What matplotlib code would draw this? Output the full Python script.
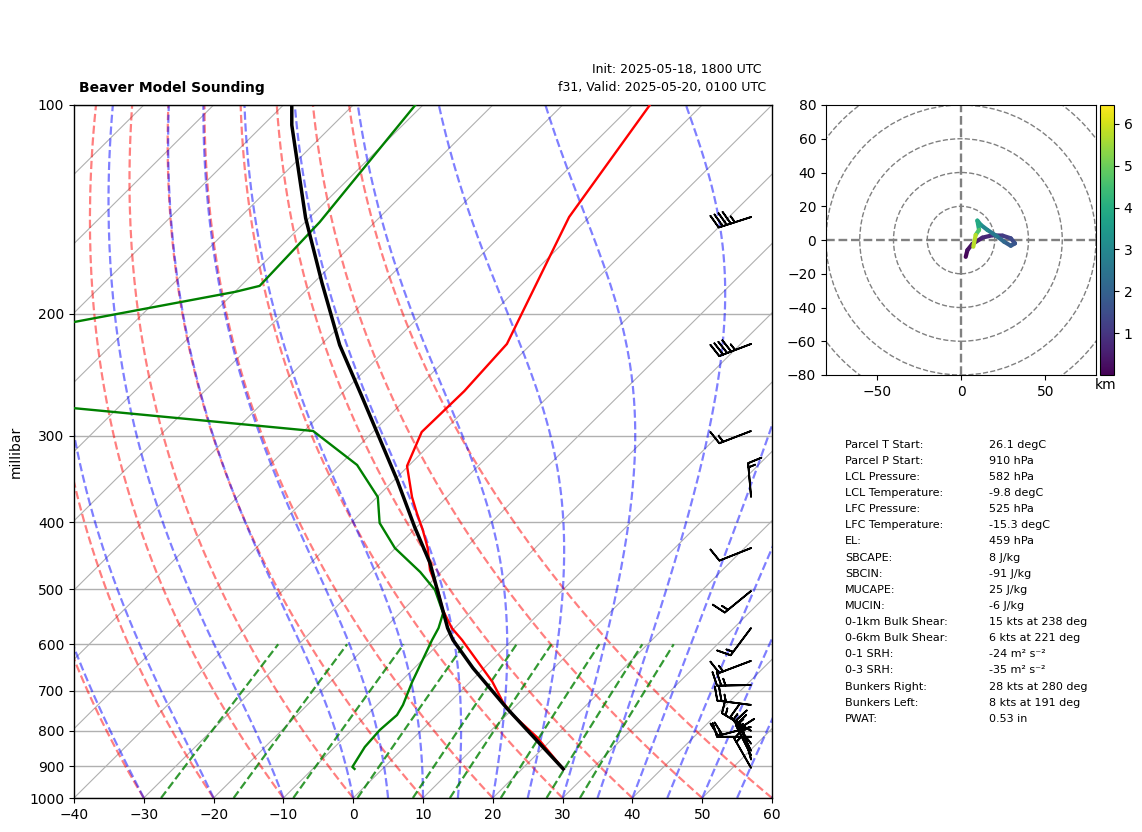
import numpy as np
import matplotlib
matplotlib.use("Agg")
import matplotlib.pyplot as plt
from matplotlib.collections import LineCollection
from matplotlib.ticker import NullLocator, FixedLocator, FixedFormatter

# ---- sounding profiles
temp_p = [908, 816.6, 759, 727, 680, 591.6, 568.5, 535.4, 501, 468.8, 435.8, 410.5, 388, 367.9, 331.8, 296.4, 258.7, 221.2, 145.1, 100]
temp_t = [25.9, 17.5, 10.9, 7.6, 3.2, -7.2, -10.4, -14.3, -17.9, -21.9, -25.4, -28.7, -32.0, -35.0, -40.2, -43.0, -42.8, -43.5, -52.9, -57.5]

dewp_p = [908, 902, 844, 798, 759, 734, 680, 591.6, 568.5, 541, 501, 472, 435.8, 401, 367.9, 330.7, 295.4, 248.6, 186, 182.4, 147.6, 100]
dewp_t = [-4.0, -4.6, -5.7, -6.0, -5.7, -6.3, -8.3, -11.5, -12.3, -13.8, -18.3, -23.0, -30.1, -35.9, -39.9, -47.5, -58.7, -144.1, -89.9, -87.3, -87.9, -91.1]

parcel_p = [908, 741.6, 649.3, 591.6, 568.5, 535.4, 458.1, 406.4, 347.6, 304.3, 263.8, 222, 180.6, 145.6, 137.1, 106.9, 100]
parcel_t = [25.9, 9.0, -1.6, -8.5, -11.0, -14.3, -22.9, -30.3, -39.6, -47.8, -56.6, -67.3, -78.8, -90.5, -93.5, -105.9, -108.8]

# ---- winds (knots)
barb_p = [905, 880, 868, 855, 835, 816, 800, 790, 734, 687, 634, 568.5, 502.6, 435.8, 367.9, 295.4, 221.2, 145.1]
barb_u = [7.4, 4, 6.7, 6.5, 9, 15, 12.8, 19, 24.8, 25, 14, 9, 11.6, 9.3, 1.3, 14, 42, 42.8]
barb_v = [-13, -14.5, -13.4, -13.5, -12, 0, -7.8, 5, -3.2, 0.5, 5.3, 12, 9.5, 3.7, -15, 5.4, 16, 13.8]

# ---- hodograph
hodo_u = [2.8, 3.8, 6.7, 12.7, 18.6, 24.6, 29.5, 32, 29.5, 25.5, 21.6, 15.6, 11.7, 9.7, 10.7, 8.7, 7.3]
hodo_v = [-10, -6, -2.4, 1.4, 2.8, 2.6, 1, -2, -3.4, -1, 2, 6, 9, 11.5, 6, 3, -4]
hodo_h = [0.05, 0.2, 0.4, 0.6, 0.8, 1.0, 1.3, 1.6, 1.8, 2.0, 2.4, 2.8, 3.2, 3.6, 4.2, 5.2, 6.3]
hodo_rings = [20, 40, 60, 80, 100]

# ---- thermodynamic guide lines
dry_t0 = list(range(-30, 61, 10))
moist_t0 = [-30, -20, -10, 0, 5, 10, 15, 20, 25, 30, 35, 40, 45, 50, 55, 60]
mix_w = [0.0004, 0.001, 0.002, 0.004, 0.007, 0.01, 0.016, 0.024, 0.032]

# ---- table
table_labels = ["Parcel T Start:", "Parcel P Start:", "LCL Pressure:", "LCL Temperature:", "LFC Pressure:",
                "LFC Temperature:", "EL:", "SBCAPE:", "SBCIN:", "MUCAPE:", "MUCIN:", "0-1km Bulk Shear:",
                "0-6km Bulk Shear:", "0-1 SRH:", "0-3 SRH:", "Bunkers Right:", "Bunkers Left:", "PWAT:"]
table_values = ["26.1 degC", "910 hPa", "582 hPa", "-9.8 degC", "525 hPa", "-15.3 degC", "459 hPa", "8 J/kg",
                "-91 J/kg", "25 J/kg", "-6 J/kg", "15 kts at 238 deg", "6 kts at 221 deg",
                "-24 m\u00b2 s\u207b\u00b2", "-35 m\u00b2 s\u207b\u00b2", "28 kts at 280 deg", "8 kts at 191 deg", "0.53 in"]
table_y = [445, 461, 477, 493, 509, 525, 541, 558, 574, 590, 606, 622, 638, 654, 670, 687, 703, 719]

W, H = 1142, 832
fig = plt.figure(figsize=(W / 100, H / 100), dpi=100)


def box(x0, y0, x1, y1):
    return [x0 / W, 1 - y1 / H, (x1 - x0) / W, (y1 - y0) / H]


ax = fig.add_axes(box(74, 105, 772, 798))
SKEW = 100.0


def sk(t, p):
    return np.asarray(t, float) + SKEW * np.log10(1000.0 / np.asarray(p, float))


ax.set_yscale("log")
ax.set_ylim(1000, 100)
ax.set_xlim(-40, 60)

pp = np.linspace(1000, 100, 181)
for t in np.arange(-150, 61, 10):
    ax.plot(sk(np.full_like(pp, t), pp), pp, color="#b0b0b0", lw=0.8, zorder=1)
pticks = np.arange(100, 1001, 100)
for p in pticks:
    ax.axhline(p, color="#b0b0b0", lw=1.0, zorder=1)

for t0 in dry_t0:
    tk = (t0 + 273.15) * (pp / 1000.0) ** 0.2857 - 273.15
    ax.plot(sk(tk, pp), pp, color="r", alpha=0.5, ls="--", lw=1.6, zorder=2)


def lapse(p, T):
    es = 6.112 * np.exp(17.67 * (T - 273.15) / (T - 29.65))
    rs = 0.622 * es / (p - es)
    Lv, Rd, Cp = 2.501e6, 287.05, 1005.0
    return (Rd * T + Lv * rs) / (Cp + Lv ** 2 * rs * 0.622 / (Rd * T ** 2)) / p


for t0 in moist_t0:
    T = t0 + 273.15
    tvals = [T]
    for a, b in zip(pp[:-1], pp[1:]):
        h = b - a
        k1 = lapse(a, T)
        k2 = lapse(a + h / 2, T + h / 2 * k1)
        k3 = lapse(a + h / 2, T + h / 2 * k2)
        k4 = lapse(b, T + h * k3)
        T = T + h / 6 * (k1 + 2 * k2 + 2 * k3 + k4)
        tvals.append(T)
    ax.plot(sk(np.array(tvals) - 273.15, pp), pp, color="b", alpha=0.5, ls="--", lw=1.6, zorder=2)

pm = np.linspace(1000, 600, 40)
for w in mix_w:
    e = pm * w / (0.622 + w)
    lg = np.log(e / 6.112)
    td = 243.5 * lg / (17.67 - lg)
    ax.plot(sk(td, pm), pm, color="g", alpha=0.8, ls="--", lw=1.6, zorder=2)

ax.plot(sk(temp_t, temp_p), temp_p, color="r", lw=1.7, zorder=4)
ax.plot(sk(dewp_t, dewp_p), dewp_p, color="g", lw=1.7, zorder=4)
ax.plot(sk(parcel_t, parcel_p), parcel_p, color="k", lw=2.5, zorder=5)

ax.barbs(np.full(len(barb_p), 0.97), barb_p, barb_u, barb_v,
         transform=ax.get_yaxis_transform(), clip_on=False, zorder=6, length=7, linewidth=1.3, color="k")

ax.yaxis.set_major_locator(FixedLocator(pticks))
ax.yaxis.set_major_formatter(FixedFormatter([str(p) for p in pticks]))
ax.yaxis.set_minor_locator(NullLocator())
ax.set_xticks(np.arange(-40, 61, 10))
ax.tick_params(labelsize=10)
for s in ax.spines.values():
    s.set_linewidth(1.0)

fig.text(16 / W, 1 - 452 / H, "millibar", rotation=90, ha="center", va="center", fontsize=10)
fig.text(79 / W, 1 - 88 / H, "Beaver Model Sounding", fontweight="bold", ha="left", va="center", fontsize=10)
fig.text(762 / W, 1 - 70 / H, "Init: 2025-05-18, 1800 UTC", ha="right", va="center", fontsize=9)
fig.text(766 / W, 1 - 88 / H, "f31, Valid: 2025-05-20, 0100 UTC", ha="right", va="center", fontsize=9)

# hodograph
hx = fig.add_axes(box(826, 105, 1096, 375))
hx.set_xlim(-80, 80)
hx.set_ylim(-80, 80)
for r in hodo_rings:
    hx.add_patch(plt.Circle((0, 0), r, color="grey", ls="--", fill=False, lw=1))
hx.axhline(0, color="grey", ls="--", lw=1.7)
hx.axvline(0, color="grey", ls="--", lw=1.7)
pts = np.column_stack([hodo_u, hodo_v])
segs = np.stack([pts[:-1], pts[1:]], axis=1)
mids = (np.array(hodo_h[:-1]) + np.array(hodo_h[1:])) / 2
lc = LineCollection(segs, cmap="viridis", norm=plt.Normalize(0, 6.45), lw=3, capstyle="round")
lc.set_array(mids)
hx.add_collection(lc)
hx.set_xticks([-50, 0, 50])
hx.set_yticks(np.arange(-80, 81, 20))

cax = fig.add_axes(box(1100, 105, 1114, 375))
cb = fig.colorbar(lc, cax=cax, ticks=[1, 2, 3, 4, 5, 6])
fig.text(1106 / W, 1 - 385 / H, "km", ha="center", va="center", fontsize=10)

for lab, val, y in zip(table_labels, table_values, table_y):
    fig.text(845 / W, 1 - y / H, lab, ha="left", va="center", fontsize=8)
    fig.text(989 / W, 1 - y / H, val, ha="left", va="center", fontsize=8)

fig.savefig("out.png", dpi=100)
